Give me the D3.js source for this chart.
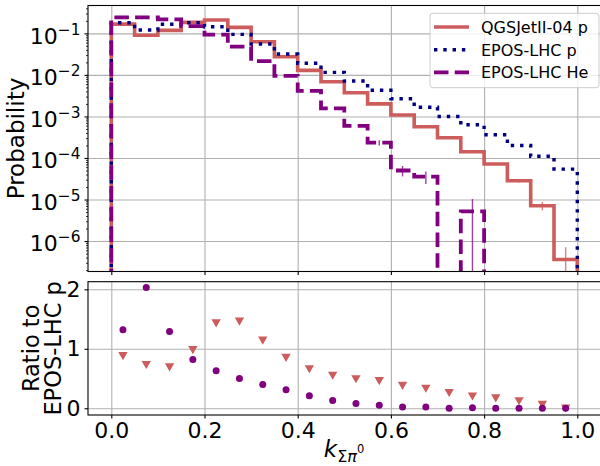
<!DOCTYPE html>
<html><head><meta charset="utf-8">
<script src="https://cdn.jsdelivr.net/npm/d3@7"></script>
<style>
body{margin:0;background:#fff}
text{font-family:"DejaVu Sans",sans-serif;fill:#000}
</style>
</head><body>
<svg id="chart" width="600" height="466"></svg>
<script>
// ---- data ----
const binEdges = [0,0.05,0.1,0.15,0.2,0.25,0.3,0.35,0.4,0.45,0.5,0.55,0.6,0.65,0.7,0.75,0.8,0.85,0.9,0.95,1.0];
const binCenters = [0.025,0.075,0.125,0.175,0.225,0.275,0.325,0.375,0.425,0.475,0.525,0.575,0.625,0.675,0.725,0.775,0.825,0.875,0.925,0.975];
const qgsP   = [0.167,0.09,0.118,0.184,0.209,0.139,0.0628,0.0274,0.01285,0.00684,0.00373,0.002,0.00108,0.000565,0.000307,0.000141,0.0000715,0.0000284,0.0000071,0.00000036];
const eposP  = [0.18,0.12,0.165,0.18,0.144,0.0944,0.0553,0.0318,0.019,0.0115,0.0071,0.00425,0.00267,0.00166,0.001,0.00063,0.000363,0.0002,0.00011,0.000054];
const eposHe = [0.243,0.243,0.217,0.15,0.093,0.0477,0.0215,0.0095,0.0041,0.00157,0.00059,0.000233,0.00005,0.0000355,0,0.0000052,0,0,0,0];
const qgsErr = [0,0,0,0,0,0,0,0,0,0,0,0,0,0,0,0,0,0.0000028,0.0000016,0.00000035];
const heErr  = [0,0,0,0,0,0,0,0,0,0,0,0.000033,0.000014,0.000012,0,0.0000051,0,0,0,0];
const ratioQgs = [0.90,0.75,0.71,1.0,1.45,1.48,1.16,0.87,0.68,0.57,0.51,0.48,0.40,0.35,0.28,0.22,0.19,0.14,0.08,0.02];
const ratioHe  = [1.32,2.03,1.29,0.82,0.63,0.50,0.40,0.31,0.21,0.13,0.08,0.05,0.02,0.02,0.0,0.01,0.0,0.0,0.0,0.0];
const xTicks = [0,0.2,0.4,0.6,0.8,1.0];
const xTickLabels = ["0.0","0.2","0.4","0.6","0.8","1.0"];
const yTopTicks = [1e-1,1e-2,1e-3,1e-4,1e-5,1e-6];
const yTopExps = ["−1","−2","−3","−4","−5","−6"];
const yBotTicks = [0,1,2];
const legendLabels = ["QGSJetII-04 p","EPOS-LHC p","EPOS-LHC He"];

// ---- layout ----
const L = 88, R = 600.6;
const T1 = 5.5, B1 = 271.5, T2 = 281.7, B2 = 415;
const svg = d3.select("#chart");
const x = d3.scaleLinear().domain([-0.05,1.05]).range([L,R]);
const yTop = d3.scaleLog().domain([1.85e-7,0.468]).range([B1,T1]);
const yBot = d3.scaleLinear().domain([-0.113,2.128]).range([B2,T2]);
const gridCol = "#b0b0b0";
const cRed = "#cd5c5c", cBlue = "#000080", cPurp = "#800080";

const defs = svg.append("defs");
defs.append("clipPath").attr("id","clipTop").append("rect").attr("x",L).attr("y",T1).attr("width",R-L).attr("height",B1-T1);
defs.append("clipPath").attr("id","clipBot").append("rect").attr("x",L).attr("y",T2).attr("width",R-L).attr("height",B2-T2);

// ---- grids ----
function grids(yScale, yVals, top, bot){
  const g = svg.append("g");
  g.append("g").attr("transform",`translate(0,${bot})`)
    .call(d3.axisBottom(x).tickValues(xTicks).tickSize(-(bot-top)).tickFormat(""))
    .call(s=>{s.select(".domain").remove(); s.selectAll("line").attr("stroke",gridCol).attr("stroke-width",1.1);});
  g.append("g").attr("transform",`translate(${L},0)`)
    .call(d3.axisLeft(yScale).tickValues(yVals).tickSize(-(R-L)).tickFormat(""))
    .call(s=>{s.select(".domain").remove(); s.selectAll("line").attr("stroke",gridCol).attr("stroke-width",1.1);});
}
grids(yTop, yTopTicks, T1, B1);
grids(yBot, yBotTicks, T2, B2);

// ---- histograms ----
function stepPts(vals){
  const pts = [[binEdges[0], 1e-12]];
  vals.forEach((v,i)=>{ pts.push([binEdges[i], v]); pts.push([binEdges[i+1], v]); });
  pts.push([binEdges[binEdges.length-1], 1e-12]);
  return pts;
}
const line = d3.line().x(d=>x(d[0])).y(d=>yTop(d[1] > 0 ? d[1] : 1e-12));
const gh = svg.append("g").attr("clip-path","url(#clipTop)");
const series = [
  {vals:qgsP, err:qgsErr, col:cRed, w:3.6, dash:null},
  {vals:eposP, err:null, col:cBlue, w:3.4, dash:"3.4,5.9"},
  {vals:eposHe, err:heErr, col:cPurp, w:3.8, dash:"14.5,6.2"}
];
series.forEach(s=>{
  gh.append("path").attr("d", line(stepPts(s.vals))).attr("fill","none")
    .attr("stroke", s.col).attr("stroke-width", s.w)
    .attr("stroke-dasharray", s.dash).attr("stroke-linejoin","miter");
  if (s.err){
    s.err.forEach((e,i)=>{
      if (e>0){
        const v = s.vals[i];
        gh.append("line").attr("x1",x(binCenters[i])).attr("x2",x(binCenters[i]))
          .attr("y1",yTop(v+e)).attr("y2",yTop(v-e>0 ? v-e : 1e-12))
          .attr("stroke",s.col).attr("stroke-width",1.4).attr("opacity",0.75);
      }
    });
  }
});

// ---- ratio points ----
const gr = svg.append("g").attr("clip-path","url(#clipBot)");
gr.selectAll("path.tri").data(ratioQgs).join("path").attr("class","tri")
  .attr("d", d3.symbol().type(d3.symbolTriangle).size(38))
  .attr("transform",(d,i)=>`translate(${x(binCenters[i])},${yBot(d)}) rotate(180)`)
  .attr("fill",cRed);
gr.selectAll("circle").data(ratioHe).join("circle")
  .attr("cx",(d,i)=>x(binCenters[i])).attr("cy",d=>yBot(d)).attr("r",3.5).attr("fill",cPurp);

// ---- frames ----
[[T1,B1],[T2,B2]].forEach(([t,b])=>{
  svg.append("rect").attr("x",L).attr("y",t).attr("width",R-L).attr("height",b-t)
    .attr("fill","none").attr("stroke","#000").attr("stroke-width",1.1);
});

// ---- axes ----
const fs = 22;
// top x ticks (no labels)
svg.append("g").attr("transform",`translate(0,${B1})`)
  .call(d3.axisBottom(x).tickValues(xTicks).tickSize(3.5).tickFormat(""))
  .call(s=>{s.select(".domain").remove(); s.selectAll("line").attr("stroke","#000").attr("stroke-width",1.1);});
// bottom x axis
svg.append("g").attr("transform",`translate(0,${B2})`)
  .call(d3.axisBottom(x).tickValues(xTicks).tickSize(3.5).tickPadding(4).tickFormat((d,i)=>xTickLabels[i]))
  .call(s=>{s.select(".domain").remove(); s.selectAll("line").attr("stroke","#000").attr("stroke-width",1.1);
    s.selectAll("text").attr("font-size",fs).attr("font-family","DejaVu Sans").attr("fill","#000");});
// top y axis major
svg.append("g").attr("transform",`translate(${L},0)`)
  .call(d3.axisLeft(yTop).tickValues(yTopTicks).tickSize(3.5).tickPadding(4).tickFormat(""))
  .call(s=>{s.select(".domain").remove(); s.selectAll("line").attr("stroke","#000").attr("stroke-width",1.1);
    s.selectAll(".tick text").each(function(d,i){
      const t = d3.select(this).attr("font-size",fs).attr("font-family","DejaVu Sans").attr("fill","#000").attr("dy",null).attr("y",9.8);
      t.append("tspan").text("10");
      t.append("tspan").attr("font-size",15.4).attr("dy",-9).text(yTopExps[i]);
    });});
// top y minor
const minors = [];
[1e-7,1e-6,1e-5,1e-4,1e-3,1e-2,1e-1].forEach(p=>{[2,3,4,5,6,7,8,9].forEach(m=>{const v=m*p; if(v>1.85e-7 && v<0.468) minors.push(v);});});
svg.append("g").attr("transform",`translate(${L},0)`)
  .call(d3.axisLeft(yTop).tickValues(minors).tickSize(2).tickFormat(""))
  .call(s=>{s.select(".domain").remove(); s.selectAll("line").attr("stroke","#000").attr("stroke-width",0.8);});
// bottom y axis
svg.append("g").attr("transform",`translate(${L},0)`)
  .call(d3.axisLeft(yBot).tickValues(yBotTicks).tickSize(3.5).tickPadding(4).tickFormat(d3.format("d")))
  .call(s=>{s.select(".domain").remove(); s.selectAll("line").attr("stroke","#000").attr("stroke-width",1.1);
    s.selectAll("text").attr("font-size",fs).attr("font-family","DejaVu Sans").attr("fill","#000");});

// ---- axis labels ----
svg.append("text").attr("transform",`translate(24,${(T1+B1)/2}) rotate(-90)`)
  .attr("text-anchor","middle").attr("font-size",23).text("Probability");
const rl = svg.append("text").attr("transform",`translate(38.5,${(T2+B2)/2}) rotate(-90)`)
  .attr("text-anchor","middle").attr("font-size",22.5);
rl.append("tspan").attr("x",0).attr("y",0).text("Ratio to");
rl.append("tspan").attr("x",0).attr("y",22.5).text("EPOS-LHC p");
const xl = svg.append("text").attr("x",344).attr("y",457).attr("text-anchor","middle").attr("font-size",23);
xl.append("tspan").attr("font-style","italic").text("k");
xl.append("tspan").attr("font-size",16).attr("dy",5).text("Σ");
xl.append("tspan").attr("font-size",16).attr("font-style","italic").text("π");
xl.append("tspan").attr("font-size",11.5).attr("dy",-9.5).text("0");

// ---- legend ----
const lg = svg.append("g");
lg.append("rect").attr("x",430).attr("y",13.3).attr("width",169).attr("height",74.4).attr("rx",3)
  .attr("fill","#fff").attr("fill-opacity",0.8).attr("stroke","#cccccc").attr("stroke-width",1);
const rowsY = [27, 49.7, 72.4];
series.forEach((s,i)=>{
  lg.append("line").attr("x1",434).attr("x2",469).attr("y1",rowsY[i]).attr("y2",rowsY[i])
    .attr("stroke",s.col).attr("stroke-width",s.w).attr("stroke-dasharray",s.dash);
  lg.append("text").attr("x",481).attr("y",rowsY[i]+5.8).attr("font-size",16).text(legendLabels[i]);
});
</script>
</body></html>
